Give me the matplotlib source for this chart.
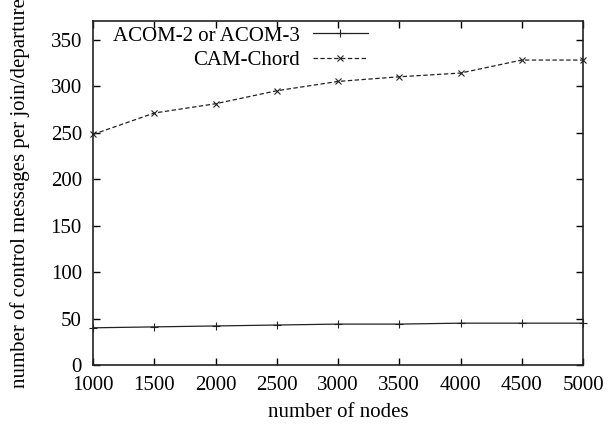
import matplotlib
matplotlib.use("Agg")
import matplotlib.pyplot as plt

nodes = [1000, 1500, 2000, 2500, 3000, 3500, 4000, 4500, 5000]
acom = [40, 41, 42, 43, 44, 44, 45, 45, 45]
cam_chord = [248, 271, 281, 295, 305, 310, 314, 328, 328]
xticks = [1000, 1500, 2000, 2500, 3000, 3500, 4000, 4500, 5000]
yticks = [0, 50, 100, 150, 200, 250, 300, 350]

plt.rcParams['font.family'] = ['Liberation Serif', 'DejaVu Serif']
plt.rcParams['font.size'] = 15

fig = plt.figure(figsize=(6.08, 4.29), dpi=100)
ax = fig.add_axes([93/608, 1 - 365/429, (583 - 93)/608, (365 - 21)/429])

ax.plot(nodes, acom, color='#222222', lw=0.9, ls='-', marker='+', ms=6, mew=0.8,
        label='ACOM-2 or ACOM-3', clip_on=False)
ax.plot(nodes, cam_chord, color='#222222', lw=0.9, ls=(0, (3.5, 2)), marker='x', ms=5, mew=0.8,
        label='CAM-Chord', clip_on=False)

ax.set_xlim(1000, 5000)
ax.set_ylim(0, 370)
ax.set_xticks(xticks)
ax.set_yticks(yticks)
ax.tick_params(direction='in', top=True, right=True, length=5, width=1, pad=8,
               labelsize=15)
ax.tick_params(axis='x', pad=8)
for s in ax.spines.values():
    s.set_linewidth(1.2)
    s.set_color('#222222')

ax.set_xlabel('number of nodes', fontsize=15, labelpad=6)
ax.set_ylabel('number of control messages per join/departure', fontsize=15)
ax.yaxis.set_label_coords(-0.128, 0.5)

leg = ax.legend(loc='upper right', bbox_to_anchor=(372/608, 1 - 22/429),
                bbox_transform=fig.transFigure, frameon=False, markerfirst=False,
                fontsize=15, handlelength=2.65, handletextpad=0.6,
                labelspacing=0.22, borderaxespad=0, borderpad=0.2)
for t in leg.get_texts():
    t.set_ha('right')
leg._legend_box.align = 'right'

fig.savefig('out.png', dpi=100)
